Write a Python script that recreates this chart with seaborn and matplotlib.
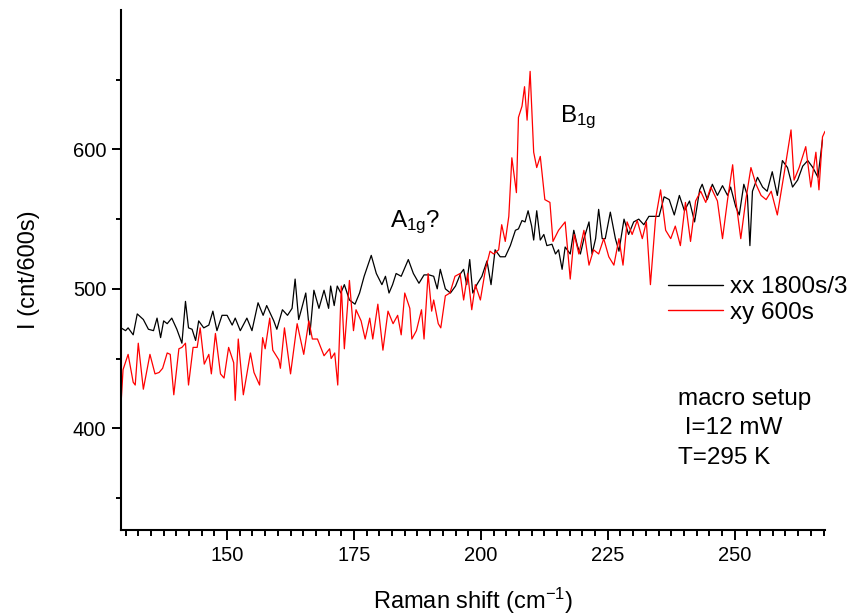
import matplotlib
matplotlib.use("Agg")
import matplotlib.pyplot as plt
from matplotlib.ticker import MultipleLocator, FixedLocator
import numpy as np
import pandas as pd
import seaborn as sns

# ---- data ----
shift_xx = [129.1, 130.0, 130.5, 131.5, 132.3, 133.5, 134.5, 135.5, 136.2, 136.9, 137.5, 138.2, 139.1,
            140.1, 141.1, 141.8, 142.4, 143.1, 143.8, 144.4, 145.4, 146.4, 147.2, 148.0, 149.0, 150.0,
            151.0, 151.6, 152.6, 153.9, 154.9, 156.1, 157.1, 157.8, 159.2, 159.8, 160.9, 161.9, 162.8,
            163.4, 164.1, 164.7, 165.5, 166.3, 167.1, 168.1, 169.1, 170.0, 170.4, 171.1, 171.7, 172.4,
            173.1, 174.1, 175.2, 176.1, 177.0, 178.4, 179.4, 180.5, 181.2, 181.9, 182.6, 183.3, 184.3,
            185.7, 186.7, 187.8, 188.8, 189.8, 190.7, 191.4, 192.0, 193.0, 194.0, 195.0, 196.0, 196.6,
            197.2, 197.8, 198.4, 199.2, 200.2, 201.2, 202.0, 202.8, 203.8, 204.8, 205.8, 206.8, 207.4,
            208.1, 208.7, 209.3, 210.0, 210.4, 211.0, 211.7, 212.4, 213.0, 214.0, 214.7, 215.3, 216.0,
            216.6, 217.6, 218.3, 219.0, 219.6, 220.3, 221.3, 221.9, 222.6, 223.2, 223.9, 224.5, 225.5,
            226.5, 227.2, 228.2, 229.1, 230.1, 231.1, 232.1, 233.1, 234.1, 235.1, 236.1, 237.1, 238.1,
            239.1, 240.1, 241.1, 242.1, 243.1, 243.6, 244.6, 245.6, 246.6, 247.6, 248.6, 249.2, 250.2,
            250.9, 251.8, 252.5, 253.0, 253.5, 254.5, 255.5, 256.4, 257.4, 258.4, 259.4, 260.4, 261.4,
            262.4, 263.4, 264.4, 265.4, 266.4, 267.3]
counts_xx = [472, 470, 472, 467, 482, 478, 471, 470, 479, 465, 477, 475, 479,
             471, 461, 491, 472, 471, 463, 477, 472, 474, 484, 470, 481, 481,
             474, 479, 470, 479, 470, 490, 481, 488, 477, 471, 485, 481, 486,
             507, 478, 486, 497, 467, 499, 486, 499, 486, 502, 488, 502, 497,
             503, 492, 489, 497, 509, 524, 511, 503, 509, 497, 503, 511, 509,
             521, 511, 504, 510, 510, 509, 500, 514, 500, 497, 502, 511, 514,
             503, 521, 497, 503, 509, 520, 503, 528, 523, 523, 531, 542, 543,
             549, 548, 556, 545, 535, 556, 535, 539, 531, 532, 525, 528, 514,
             530, 525, 542, 531, 525, 536, 548, 525, 536, 557, 536, 536, 555,
             536, 527, 550, 539, 548, 550, 546, 552, 552, 552, 566, 564, 553,
             567, 556, 563, 548, 571, 575, 564, 575, 567, 574, 567, 573, 559,
             553, 575, 567, 531, 570, 580, 573, 570, 584, 567, 592, 587, 573,
             578, 588, 592, 587, 580, 607]

shift_xy = [129.1, 129.5, 130.5, 131.5, 131.9, 132.5, 133.5, 134.8, 135.8, 136.6, 137.3, 138.2, 138.8,
            139.5, 140.5, 141.1, 141.8, 142.4, 143.3, 144.1, 144.7, 145.5, 146.4, 146.9, 147.7, 148.7,
            149.4, 150.3, 151.3, 151.6, 152.2, 153.2, 154.6, 155.3, 156.4, 157.0, 157.5, 158.4, 159.0,
            160.2, 160.5, 161.3, 162.5, 163.8, 165.1, 166.1, 166.8, 167.8, 169.1, 170.2, 170.5, 171.2,
            171.8, 172.5, 173.1, 174.1, 174.9, 175.4, 176.4, 177.2, 178.1, 178.7, 179.7, 180.7, 181.7,
            182.7, 183.6, 184.3, 185.0, 186.0, 186.4, 187.3, 188.3, 188.8, 189.6, 190.3, 190.7, 191.6,
            192.1, 193.0, 193.9, 194.9, 195.9, 196.6, 197.4, 198.2, 198.9, 199.9, 200.9, 201.8, 202.5,
            203.5, 204.1, 204.8, 205.5, 206.1, 207.0, 207.4, 208.1, 208.6, 209.1, 209.7, 210.4, 211.0,
            211.7, 212.6, 213.6, 214.2, 215.3, 216.6, 217.6, 218.4, 219.3, 220.3, 221.3, 222.2, 223.2,
            224.2, 225.2, 226.2, 227.2, 228.0, 228.8, 229.8, 230.8, 231.8, 232.6, 233.4, 234.4, 235.4,
            236.4, 237.4, 238.3, 239.3, 240.3, 241.3, 242.3, 243.3, 244.3, 245.3, 246.6, 247.6, 248.6,
            249.6, 250.2, 251.2, 252.2, 253.2, 254.2, 255.2, 256.2, 257.2, 258.4, 259.8, 261.1, 261.7,
            262.7, 264.0, 265.0, 266.0, 266.6, 267.3, 267.8]
counts_xy = [417, 442, 453, 433, 431, 461, 428, 453, 439, 440, 443, 454, 453,
             424, 457, 458, 461, 431, 458, 458, 472, 446, 453, 439, 468, 439,
             436, 458, 447, 420, 464, 424, 454, 440, 431, 465, 457, 479, 456,
             449, 443, 472, 439, 475, 453, 477, 464, 464, 452, 457, 450, 454,
             431, 502, 457, 506, 470, 485, 477, 464, 479, 464, 489, 456, 484,
             475, 481, 467, 497, 486, 464, 470, 485, 464, 511, 484, 492, 475,
             472, 495, 497, 509, 511, 492, 511, 485, 503, 492, 514, 527, 525,
             528, 546, 534, 552, 594, 569, 623, 631, 645, 621, 656, 598, 587,
             595, 564, 562, 534, 542, 548, 507, 539, 525, 542, 517, 528, 525,
             536, 523, 517, 536, 517, 548, 539, 549, 536, 548, 503, 550, 571,
             542, 536, 545, 531, 562, 534, 563, 570, 562, 573, 563, 536, 564,
             589, 564, 536, 564, 587, 575, 567, 564, 570, 553, 584, 614, 578,
             587, 602, 573, 598, 571, 609, 613]

series_labels = ["xx 1800s/3", "xy 600s"]
series_colors = ["black", "red"]

y_major = [400, 500, 600]
y_minor = [350, 450, 550, 650]

df = pd.concat([
    pd.DataFrame({"shift": shift_xx, "counts": counts_xx, "series": series_labels[0]}),
    pd.DataFrame({"shift": shift_xy, "counts": counts_xy, "series": series_labels[1]}),
], ignore_index=True)

sns.set_style("ticks")
plt.rcParams["font.family"] = ["Liberation Sans", "DejaVu Sans"]
plt.rcParams["mathtext.fontset"] = "custom"
plt.rcParams["mathtext.rm"] = "Liberation Sans"
plt.rcParams["mathtext.it"] = "Liberation Sans"
plt.rcParams["text.color"] = "black"
plt.rcParams["axes.labelcolor"] = "black"
plt.rcParams["xtick.color"] = "black"
plt.rcParams["ytick.color"] = "black"

fig = plt.figure(figsize=(8.57, 6.15), dpi=100)
ax = fig.add_axes([0.1412, 0.1382, 0.8215, 0.8455])

sns.lineplot(data=df, x="shift", y="counts", hue="series", hue_order=series_labels,
             palette=series_colors, linewidth=0.9, sort=False, estimator=None, ax=ax)

ax.set_xlim(129.1, 267.8)
ax.set_ylim(327, 700)

ax.xaxis.set_major_locator(MultipleLocator(25))
ax.xaxis.set_minor_locator(MultipleLocator(2.5))
ax.yaxis.set_major_locator(FixedLocator(y_major))
ax.yaxis.set_minor_locator(FixedLocator(y_minor))

ax.tick_params(axis="both", which="major", direction="out", width=1.4,
               labelsize=14.5, colors="black")
ax.tick_params(axis="x", which="major", length=7.2, pad=4)
ax.tick_params(axis="y", which="major", length=6.5, pad=4)
ax.tick_params(axis="x", which="minor", direction="out", length=4.3, width=1.4, colors="black")
ax.tick_params(axis="y", which="minor", direction="out", length=3.5, width=1.4, colors="black")

for s in ["top", "right"]:
    ax.spines[s].set_visible(False)
for s in ["left", "bottom"]:
    ax.spines[s].set_linewidth(1.5)
    ax.spines[s].set_color("black")

ax.set_xlabel("Raman shift (cm$^{-1}$)", fontsize=17, labelpad=15, color="black")
ax.set_ylabel("I (cnt/600s)", fontsize=17, labelpad=24, color="black")

leg = ax.legend(loc="upper left", bbox_to_anchor=(0.777, 0.488), frameon=False,
                fontsize=17.5, handlelength=2.25, handletextpad=0.3, labelspacing=0.15,
                borderpad=0, borderaxespad=0, labelcolor="black")
for line in leg.get_lines():
    line.set_linewidth(1.0)

ax.text(182.0, 548, "A$_{1g}$?", fontsize=17.5, va="center", ha="left", color="black")
ax.text(215.6, 623, "B$_{1g}$", fontsize=17.5, va="center", ha="left", color="black")
ax.text(238.8, 421, "macro setup", fontsize=17.5, va="center", ha="left", color="black")
ax.text(238.8, 400, " I=12 mW", fontsize=17.5, va="center", ha="left", color="black")
ax.text(238.8, 379, "T=295 K", fontsize=17.5, va="center", ha="left", color="black")

fig.savefig("out.png", dpi=100)
